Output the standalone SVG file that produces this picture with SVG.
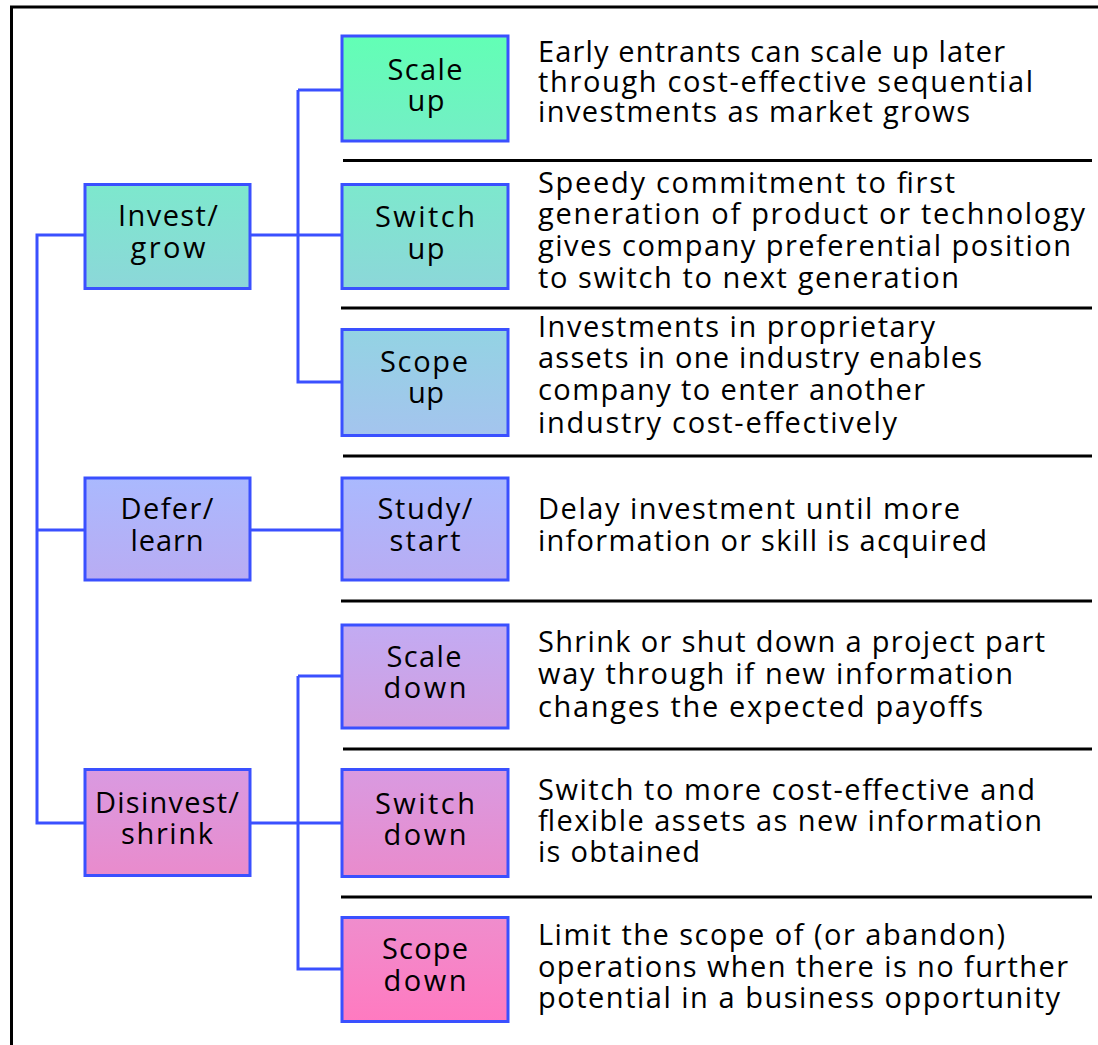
<svg xmlns="http://www.w3.org/2000/svg" width="1098" height="1045" viewBox="0 0 1098 1045">
  <style>
    .box { stroke: #3a50ff; stroke-width: 3; }
    .wire { fill: none; stroke: #3a50ff; stroke-width: 3; }
    .rule { stroke: #000; stroke-width: 2.8; }
    .frame { fill: none; stroke: #000; stroke-width: 3; }
    text { font-family: "Open Sans", "DejaVu Sans", sans-serif; font-size: 29px; fill: #000; }
    .lbl { text-anchor: middle; }
  </style>
  <defs>
    <linearGradient id="gScaleUp" x1="0" y1="0" x2="0" y2="1"><stop offset="0" stop-color="#62ffb5"/><stop offset="1" stop-color="#74eec6"/></linearGradient>
    <linearGradient id="gTeal" x1="0" y1="0" x2="0" y2="1"><stop offset="0" stop-color="#7de8cd"/><stop offset="1" stop-color="#8cd7d9"/></linearGradient>
    <linearGradient id="gScopeUp" x1="0" y1="0" x2="0" y2="1"><stop offset="0" stop-color="#93d3e3"/><stop offset="1" stop-color="#a4c4ee"/></linearGradient>
    <linearGradient id="gLilac" x1="0" y1="0" x2="0" y2="1"><stop offset="0" stop-color="#aab9fe"/><stop offset="1" stop-color="#b9acf3"/></linearGradient>
    <linearGradient id="gScaleDown" x1="0" y1="0" x2="0" y2="1"><stop offset="0" stop-color="#c2abf3"/><stop offset="1" stop-color="#d29ee0"/></linearGradient>
    <linearGradient id="gMagenta" x1="0" y1="0" x2="0" y2="1"><stop offset="0" stop-color="#d99ae1"/><stop offset="1" stop-color="#e98bcc"/></linearGradient>
    <linearGradient id="gScopeDown" x1="0" y1="0" x2="0" y2="1"><stop offset="0" stop-color="#ef8dcd"/><stop offset="1" stop-color="#ff7ac0"/></linearGradient>
  </defs>

  <rect width="1098" height="1045" fill="#fff"/>

  <!-- outer frame: left and top edges only -->
  <path class="frame" d="M11.5 1045 V7 H1098"/>

  <!-- horizontal rules between option rows -->
  <g id="rules">
    <line class="rule" x1="343" y1="160.5" x2="1092" y2="160.5"/>
    <line class="rule" x1="341" y1="308" x2="1092" y2="308"/>
    <line class="rule" x1="343" y1="456" x2="1092" y2="456"/>
    <line class="rule" x1="341" y1="601" x2="1092" y2="601"/>
    <line class="rule" x1="343" y1="749" x2="1092" y2="749"/>
    <line class="rule" x1="341" y1="897" x2="1092" y2="897"/>
  </g>

  <!-- connectors -->
  <g id="connectors">
    <path class="wire" d="M85 235 H37 V823 H85 M37 530 H85"/>
    <path class="wire" d="M250 235 H342 M298 90 H342 M298 90 V382 H342"/>
    <path class="wire" d="M250 530 H342"/>
    <path class="wire" d="M250 823 H342 M298 676 H342 M298 676 V969 H342"/>
  </g>

  <!-- strategy nodes -->
  <g id="invest-grow">
    <rect class="box" x="85" y="184.5" width="165" height="104" fill="url(#gTeal)"/>
    <text class="lbl" x="168" y="226" textLength="100">Invest/</text>
    <text class="lbl" x="168" y="258" textLength="75">grow</text>
  </g>
  <g id="defer-learn">
    <rect class="box" x="85" y="478" width="165" height="102" fill="url(#gLilac)"/>
    <text class="lbl" x="167" y="519" textLength="93">Defer/</text>
    <text class="lbl" x="167" y="551" textLength="73">learn</text>
  </g>
  <g id="disinvest-shrink">
    <rect class="box" x="85" y="769.5" width="165" height="106" fill="url(#gMagenta)"/>
    <text class="lbl" x="167" y="813" textLength="144">Disinvest/</text>
    <text class="lbl" x="167" y="844" textLength="92">shrink</text>
  </g>

  <!-- option nodes -->
  <g id="scale-up">
    <rect class="box" x="342" y="36" width="166" height="105" fill="url(#gScaleUp)"/>
    <text class="lbl" x="425" y="80" textLength="75">Scale</text>
    <text class="lbl" x="426" y="111" textLength="37">up</text>
  </g>
  <g id="switch-up">
    <rect class="box" x="342" y="184.5" width="166" height="104" fill="url(#gTeal)"/>
    <text class="lbl" x="425" y="227" textLength="100">Switch</text>
    <text class="lbl" x="426" y="259" textLength="37">up</text>
  </g>
  <g id="scope-up">
    <rect class="box" x="342" y="329.5" width="166" height="106" fill="url(#gScopeUp)"/>
    <text class="lbl" x="424" y="372" textLength="88">Scope</text>
    <text class="lbl" x="426" y="403" textLength="36">up</text>
  </g>
  <g id="study-start">
    <rect class="box" x="342" y="478" width="166" height="102" fill="url(#gLilac)"/>
    <text class="lbl" x="425" y="519" textLength="95">Study/</text>
    <text class="lbl" x="425" y="551" textLength="71">start</text>
  </g>
  <g id="scale-down">
    <rect class="box" x="342" y="625" width="166" height="103" fill="url(#gScaleDown)"/>
    <text class="lbl" x="424" y="667" textLength="75">Scale</text>
    <text class="lbl" x="425" y="698" textLength="83">down</text>
  </g>
  <g id="switch-down">
    <rect class="box" x="342" y="769.5" width="166" height="107" fill="url(#gMagenta)"/>
    <text class="lbl" x="425" y="814" textLength="100">Switch</text>
    <text class="lbl" x="425" y="845" textLength="83">down</text>
  </g>
  <g id="scope-down">
    <rect class="box" x="342" y="917.5" width="166" height="104" fill="url(#gScopeDown)"/>
    <text class="lbl" x="425" y="959" textLength="86">Scope</text>
    <text class="lbl" x="425" y="991" textLength="83">down</text>
  </g>

  <!-- descriptions -->
  <g id="descriptions" lengthAdjust="spacing">
    <text x="538" y="62" textLength="467">Early entrants can scale up later</text>
    <text x="538" y="92" textLength="495">through cost-effective sequential</text>
    <text x="538" y="122" textLength="432">investments as market grows</text>

    <text x="538" y="193" textLength="417">Speedy commitment to first</text>
    <text x="538" y="224" textLength="547">generation of product or technology</text>
    <text x="538" y="256" textLength="533">gives company preferential position</text>
    <text x="538" y="288" textLength="421">to switch to next generation</text>

    <text x="538" y="337" textLength="397">Investments in proprietary</text>
    <text x="538" y="368" textLength="444">assets in one industry enables</text>
    <text x="538" y="400" textLength="387">company to enter another</text>
    <text x="538" y="433" textLength="359">industry cost-effectively</text>

    <text x="538" y="519" textLength="422">Delay investment until more</text>
    <text x="538" y="551" textLength="449">information or skill is acquired</text>

    <text x="538" y="652" textLength="507">Shrink or shut down a project part</text>
    <text x="538" y="684" textLength="475">way through if new information</text>
    <text x="538" y="717" textLength="445">changes the expected payoffs</text>

    <text x="538" y="800" textLength="497">Switch to more cost-effective and</text>
    <text x="538" y="831" textLength="504">flexible assets as new information</text>
    <text x="538" y="862" textLength="162">is obtained</text>

    <text x="538" y="945" textLength="467">Limit the scope of (or abandon)</text>
    <text x="538" y="977" textLength="530">operations when there is no further</text>
    <text x="538" y="1008" textLength="522">potential in a business opportunity</text>
  </g>
</svg>
